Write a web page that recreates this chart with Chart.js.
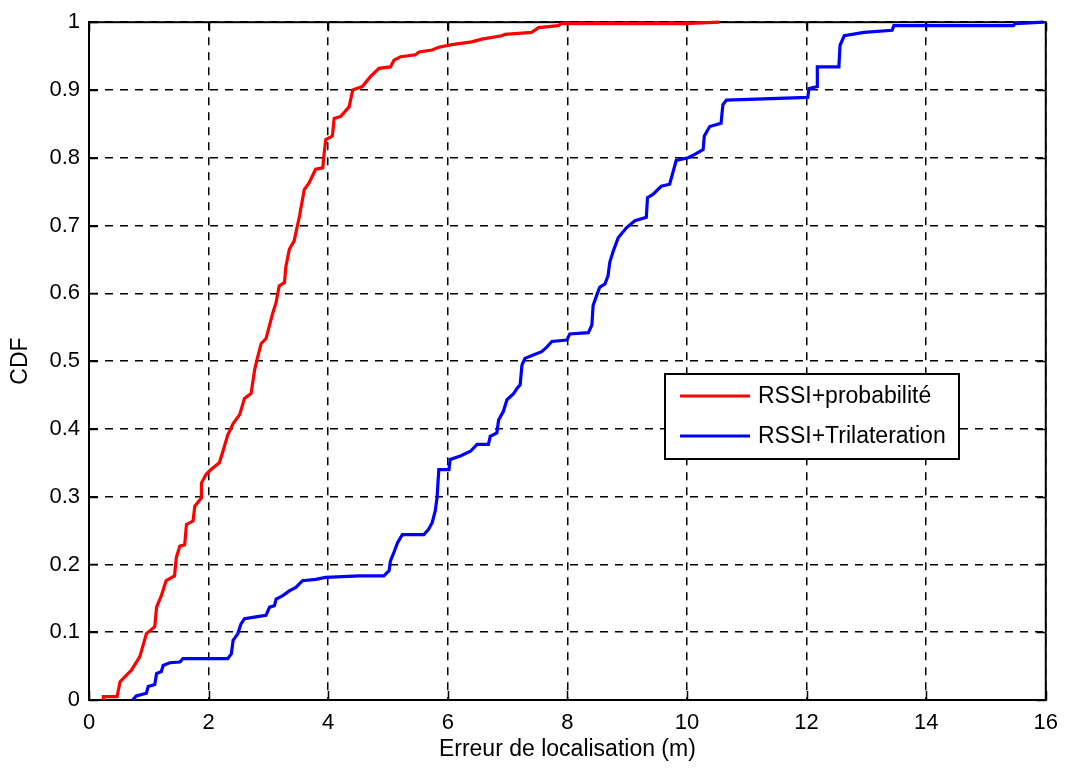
<!DOCTYPE html>
<html><head><meta charset="utf-8">
<script src="https://cdn.jsdelivr.net/npm/chart.js@4.4.1/dist/chart.umd.min.js"></script>
<style>html,body{margin:0;padding:0;background:#fff}#wrap{width:1068px;height:773px}</style>
</head><body><div id="wrap"><canvas id="c" width="1068" height="773"></canvas></div>
<script>
const seriesNames = ['RSSI+probabilité', 'RSSI+Trilateration'];
const xAxisTitle = 'Erreur de localisation (m)';
const yAxisTitle = 'CDF';

const redX = [0.24,0.24,0.47,0.52,0.71,0.85,0.96,1.10,1.13,1.21,1.29,1.43,1.46,1.52,1.60,1.63,1.74,1.77,1.88,1.88,1.96,2.04,2.18,2.24,2.32,2.41,2.52,2.60,2.71,2.77,2.82,2.88,2.96,3.02,3.07,3.13,3.18,3.27,3.29,3.35,3.43,3.52,3.60,3.68,3.79,3.91,3.93,3.96,4.07,4.10,4.21,4.35,4.41,4.57,4.71,4.85,5.04,5.10,5.21,5.46,5.52,5.74,5.85,6.07,6.40,6.57,6.90,6.96,7.40,7.52,7.85,7.90,9.96,10.54];
const redY = [0,0.005,0.005,0.027,0.044,0.064,0.098,0.108,0.137,0.154,0.176,0.183,0.210,0.227,0.229,0.259,0.264,0.286,0.298,0.320,0.333,0.340,0.350,0.367,0.391,0.408,0.421,0.445,0.452,0.487,0.506,0.526,0.533,0.553,0.570,0.587,0.611,0.616,0.638,0.665,0.677,0.714,0.753,0.763,0.783,0.785,0.805,0.827,0.832,0.858,0.861,0.875,0.900,0.905,0.920,0.932,0.934,0.944,0.949,0.952,0.956,0.959,0.963,0.967,0.971,0.975,0.980,0.982,0.985,0.992,0.995,0.998,0.998,1.0];

const blueX = [0.73,0.79,0.96,0.99,1.10,1.13,1.21,1.24,1.35,1.52,1.57,2.32,2.38,2.41,2.49,2.54,2.60,2.74,2.96,3.02,3.10,3.13,3.24,3.35,3.46,3.57,3.79,3.96,4.52,4.93,5.02,5.04,5.10,5.16,5.24,5.60,5.68,5.74,5.79,5.82,5.85,6.02,6.04,6.21,6.38,6.49,6.68,6.71,6.82,6.85,6.93,6.99,7.10,7.16,7.21,7.24,7.29,7.43,7.57,7.66,7.74,7.99,8.04,8.35,8.41,8.43,8.49,8.54,8.63,8.68,8.71,8.77,8.85,8.99,9.13,9.32,9.34,9.43,9.57,9.71,9.77,9.82,10.02,10.13,10.27,10.29,10.38,10.57,10.60,10.66,12.02,12.04,12.18,12.18,12.54,12.56,12.63,12.96,13.43,13.46,15.46,15.49,15.96];
const blueY = [0,0.006,0.010,0.020,0.023,0.039,0.042,0.051,0.055,0.056,0.061,0.061,0.068,0.088,0.098,0.112,0.120,0.122,0.125,0.137,0.139,0.149,0.154,0.161,0.166,0.176,0.178,0.181,0.183,0.183,0.191,0.205,0.218,0.232,0.244,0.244,0.252,0.262,0.279,0.298,0.340,0.340,0.355,0.360,0.367,0.377,0.377,0.389,0.394,0.413,0.426,0.443,0.452,0.460,0.465,0.494,0.504,0.509,0.514,0.521,0.529,0.531,0.540,0.542,0.553,0.582,0.597,0.609,0.614,0.626,0.646,0.663,0.682,0.697,0.707,0.712,0.741,0.746,0.758,0.761,0.780,0.796,0.800,0.805,0.812,0.832,0.846,0.851,0.878,0.885,0.889,0.902,0.905,0.934,0.934,0.966,0.980,0.985,0.988,0.995,0.995,0.998,1.0];

const seriesColors = ['#ff0000', '#0000ff'];
const FONT = '"Liberation Sans", Arial, Helvetica, sans-serif';

function pts(xs, ys) { return xs.map((x, i) => ({x: x, y: ys[i]})); }

const frame = {
  id: 'frame',
  beforeDatasetsDraw(chart) {
    const {ctx, chartArea: a, scales: {x, y}} = chart;
    ctx.save();
    ctx.strokeStyle = '#000';
    ctx.lineWidth = 1.5;
    ctx.setLineDash([]);
    ctx.beginPath();
    x.ticks.forEach(t => {
      const px = Math.round(x.getPixelForValue(t.value)) + 0.5;
      ctx.moveTo(px, a.bottom); ctx.lineTo(px, a.bottom - 9);
      ctx.moveTo(px, a.top); ctx.lineTo(px, a.top + 9);
    });
    y.ticks.forEach(t => {
      const py = Math.round(y.getPixelForValue(t.value)) + 0.5;
      ctx.moveTo(a.left, py); ctx.lineTo(a.left + 9, py);
      ctx.moveTo(a.right, py); ctx.lineTo(a.right - 9, py);
    });
    ctx.stroke();
    ctx.lineWidth = 2;
    ctx.strokeRect(a.left, a.top, a.right - a.left, a.bottom - a.top);
    ctx.restore();
  },
  afterDatasetsDraw(chart) {
    const {ctx} = chart;
    ctx.save();
    const bx = 665, by = 374, bw = 294, bh = 85;
    ctx.fillStyle = '#fff';
    ctx.fillRect(bx, by, bw, bh);
    ctx.strokeStyle = '#000';
    ctx.lineWidth = 2;
    ctx.strokeRect(bx, by, bw, bh);
    ctx.font = '23px ' + FONT;
    ctx.textBaseline = 'middle';
    ctx.textAlign = 'left';
    chart.data.datasets.forEach((ds, i) => {
      const yy = by + 22 + i * 40;
      ctx.strokeStyle = ds.borderColor;
      ctx.lineWidth = 3;
      ctx.beginPath(); ctx.moveTo(680, yy); ctx.lineTo(750, yy); ctx.stroke();
      ctx.fillStyle = '#000';
      ctx.fillText(ds.label, 758, yy + 1);
    });
    ctx.restore();
  }
};

Chart.defaults.color = '#000';
Chart.defaults.font.family = FONT;

new Chart(document.getElementById('c'), {
  type: 'scatter',
  data: {
    datasets: [
      {label: seriesNames[0], data: pts(redX, redY), borderColor: seriesColors[0], backgroundColor: seriesColors[0], showLine: true, pointRadius: 0, borderWidth: 3.2, tension: 0, clip: 4},
      {label: seriesNames[1], data: pts(blueX, blueY), borderColor: seriesColors[1], backgroundColor: seriesColors[1], showLine: true, pointRadius: 0, borderWidth: 3.2, tension: 0, clip: 4}
    ]
  },
  options: {
    responsive: false,
    animation: false,
    layout: {padding: {top: 19, right: 19, left: 0, bottom: 0}},
    plugins: {legend: {display: false}, tooltip: {enabled: false}},
    scales: {
      x: {
        type: 'linear', min: 0, max: 16,
        afterFit(s) { s.height = 73; },
        ticks: {stepSize: 2, padding: 10, font: {size: 22}, color: '#000', maxRotation: 0},
        grid: {color: '#000', lineWidth: 1.5, drawTicks: false},
        border: {color: '#000', width: 2, dash: [8, 7]},
        title: {display: true, text: xAxisTitle, font: {size: 23}, color: '#000', padding: {top: 0, bottom: 10}}
      },
      y: {
        type: 'linear', min: 0, max: 1,
        afterFit(s) { s.width = 89; },
        ticks: {stepSize: 0.1, padding: 9, font: {size: 22}, color: '#000',
          callback(v) { const r = Math.round(v * 10) / 10; return (r === 0 || r === 1) ? String(r) : r.toFixed(1); }},
        grid: {color: '#000', lineWidth: 1.5, drawTicks: false},
        border: {color: '#000', width: 2, dash: [8, 7]},
        title: {display: true, text: yAxisTitle, font: {size: 23}, color: '#000', padding: {top: 7, bottom: 0}}
      }
    }
  },
  plugins: [frame]
});
</script>
</body></html>
